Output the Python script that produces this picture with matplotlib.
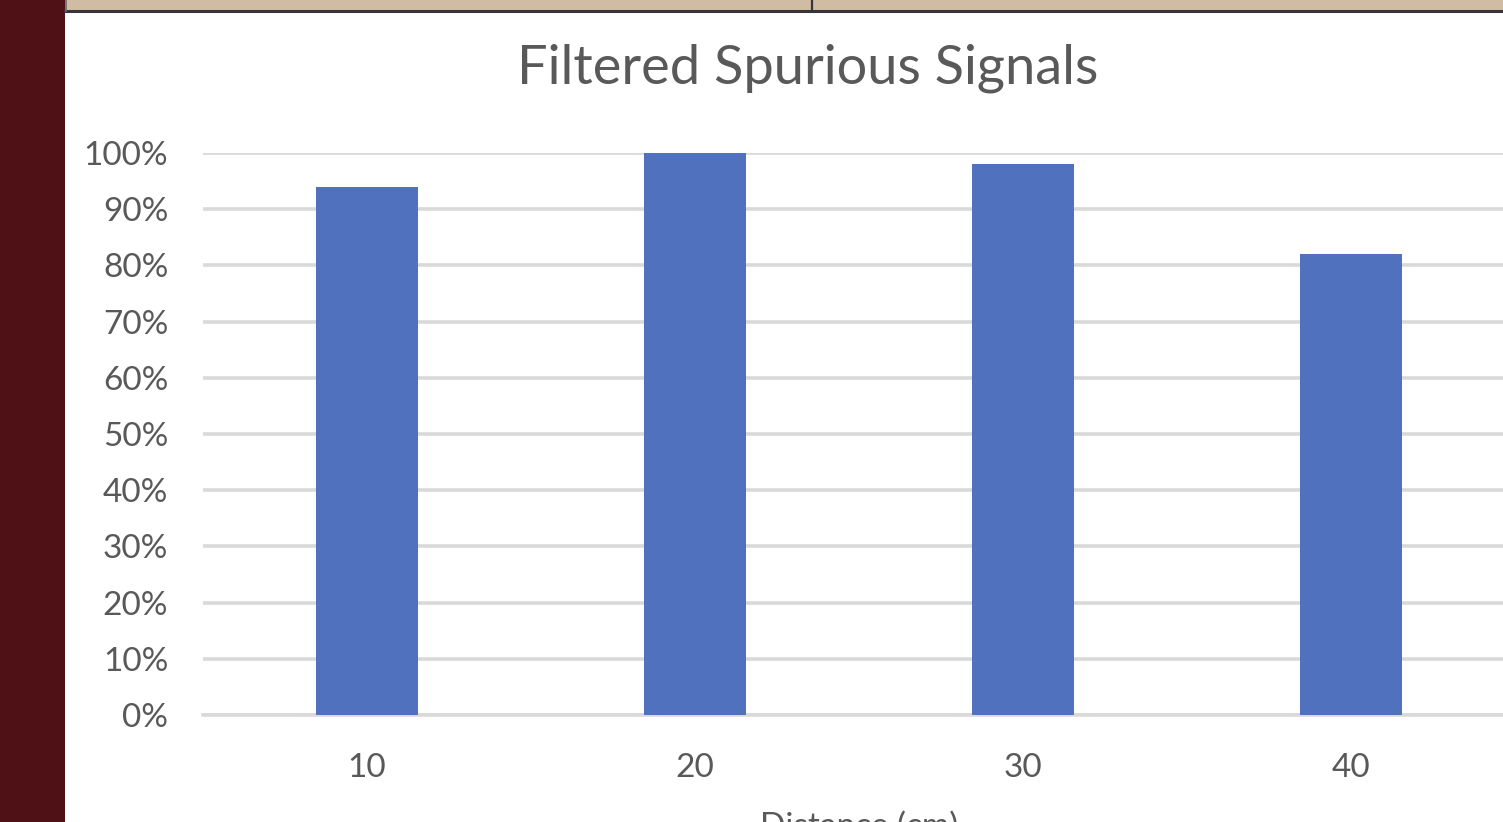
import matplotlib.pyplot as plt
from matplotlib.patches import Rectangle
from matplotlib.lines import Line2D
from matplotlib.ticker import PercentFormatter

# filtered spurious signal rate per sensor distance
distances = ['10', '20', '30', '40']
filtered_pct = [0.94, 1.00, 0.98, 0.82]
y_ticks = [0.0, 0.1, 0.2, 0.3, 0.4, 0.5, 0.6, 0.7, 0.8, 0.9, 1.0]

plt.rcParams['font.family'] = ['Lato', 'DejaVu Sans']
text_grey = '#595959'

fig = plt.figure(figsize=(15.03, 8.22), dpi=100)
fig.patch.set_facecolor('white')

# slide furniture: maroon side strip and beige header band
fig.patches.append(Rectangle((0, 0), 65 / 1503, 1, transform=fig.transFigure,
                             facecolor='#4F1016', edgecolor='none', zorder=0))
fig.patches.append(Rectangle((65 / 1503, 1 - 10 / 822), 1, 10 / 822, transform=fig.transFigure,
                             facecolor='#D0BCA2', edgecolor='none', zorder=0))
fig.lines.append(Line2D([65 / 1503, 1], [1 - 11 / 822] * 2, transform=fig.transFigure,
                        color='#35353B', lw=2.2))
fig.lines.append(Line2D([812 / 1503] * 2, [1 - 11 / 822, 1], transform=fig.transFigure,
                        color='#35353B', lw=1.6))
fig.lines.append(Line2D([66 / 1503] * 2, [1 - 11 / 822, 1], transform=fig.transFigure,
                        color='#6B6B6B', lw=1.2))

ax = fig.add_axes([203 / 1503, 107 / 822, 1312 / 1503, 562 / 822])
x = range(len(distances))
ax.bar(x, filtered_pct, width=0.31, color='#4F71BE', zorder=3)

ax.set_xlim(-0.5, len(distances) - 0.5)
ax.set_ylim(0, 1.0)
ax.set_yticks(y_ticks)
ax.yaxis.set_major_formatter(PercentFormatter(1.0, decimals=0))
ax.set_xticks(list(x))
ax.set_xticklabels(distances)

ax.grid(axis='y', color='#D9D9D9', linewidth=2.6, zorder=0)
ax.set_axisbelow(True)
for side in ['top', 'right', 'left']:
    ax.spines[side].set_visible(False)
ax.spines['bottom'].set_color('#D9D9D9')
ax.spines['bottom'].set_linewidth(2.6)
ax.tick_params(axis='both', length=0, labelsize=24, colors=text_grey)
ax.tick_params(axis='y', pad=25)
ax.tick_params(axis='x', pad=27)

ax.set_xlabel('Distance (cm)', fontsize=24, color=text_grey, labelpad=21)
fig.text(808 / 1503, 1 - 68 / 822, 'Filtered Spurious Signals', ha='center', va='center',
         fontsize=39, color=text_grey)

plt.savefig('out.png', dpi=100)
